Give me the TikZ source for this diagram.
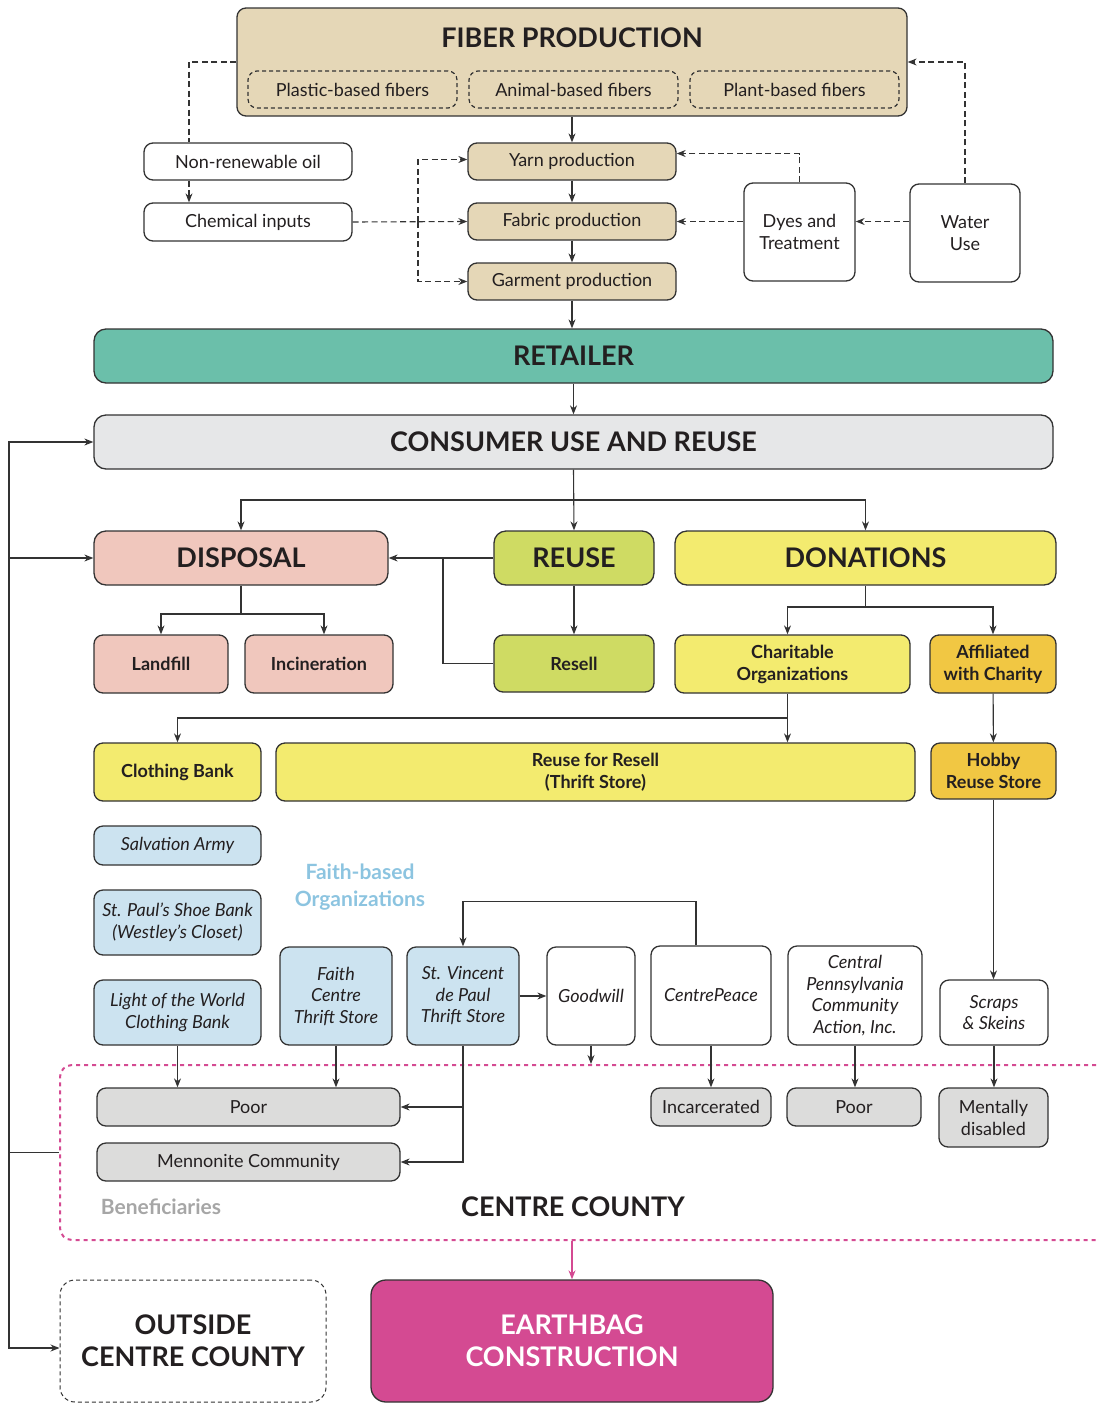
\documentclass[tikz,border=0pt]{standalone}
\usepackage{fontspec}
\setmainfont{Lato}
\usetikzlibrary{arrows.meta, positioning, calc}

\definecolor{tanc}{HTML}{E5D7B7}
\definecolor{tealc}{HTML}{6BBFAA}
\definecolor{greyc}{HTML}{E6E7E8}
\definecolor{pinkc}{HTML}{F0C7BD}
\definecolor{olivec}{HTML}{CFDB63}
\definecolor{yellowc}{HTML}{F3EB6F}
\definecolor{amberc}{HTML}{F1C743}
\definecolor{bluec}{HTML}{CCE3F0}
\definecolor{benefc}{HTML}{DCDCDB}
\definecolor{magentac}{HTML}{D44A92}
\definecolor{faithc}{HTML}{8CC4E0}
\definecolor{labelgrey}{HTML}{A6A6A6}
\definecolor{linec}{HTML}{333333}
\definecolor{txtc}{HTML}{231F20}

\begin{document}
\begin{tikzpicture}[
    x=1pt, y=-1pt,
    boxsize/.style 2 args={minimum width=#1pt, minimum height=#2pt},
    base/.style={draw=linec, line width=1.3pt, rounded corners=9pt, align=center, inner sep=0pt, text=txtc, font=\fontsize{18}{22}\selectfont},
    tanbox/.style={base, fill=tanc},
    plainbox/.style={base, fill=white},
    subbox/.style={base, line width=1.2pt, dash pattern=on 4pt off 3pt},
    headbox/.style={base, rounded corners=12pt, font=\fontsize{27}{32}\selectfont\bfseries},
    boldbox/.style={base, font=\fontsize{18}{22}\selectfont\bfseries},
    orgbox/.style={base, font=\fontsize{18}{21.5}\selectfont\itshape},
    benefbox/.style={base, fill=benefc},
    bigtext/.style={text=txtc, inner sep=0pt, align=center, font=\fontsize{27}{32}\selectfont\bfseries},
    county/.style={draw=magentac, line width=2pt, dash pattern=on 4pt off 4pt, rounded corners=12pt},
    link/.style={draw=linec, line width=1.1pt},
    arr/.style={link, -{Stealth[length=9pt, width=7pt]}},
    dline/.style={link, dash pattern=on 6pt off 3.5pt},
    darr/.style={arr, dash pattern=on 6pt off 3.5pt},
    pinkarr/.style={draw=magentac, line width=1.3pt, -{Stealth[length=9pt, width=7pt]}}
]
\useasboundingbox (0,0) rectangle (1098,1403);

% Fiber production
\node[tanbox, boxsize={670}{108}] (fiber) at (572,62) {};
\node[bigtext] (fibertitle) at (572,38) {FIBER PRODUCTION};
\node[subbox, boxsize={209}{37}] (plastic) at (352.5,89.5) {Plastic-based fibers};
\node[subbox, boxsize={209}{37}] (animal) at (573.5,89.5) {Animal-based fibers};
\node[subbox, boxsize={209}{37}] (plant) at (794.5,89.5) {Plant-based fibers};

% Production steps and inputs
\node[tanbox, boxsize={208}{37}] (yarn) at (572,161.5) {Yarn production};
\node[tanbox, boxsize={208}{37}] (fabric) at (572,221.5) {Fabric production};
\node[tanbox, boxsize={208}{37}] (garment) at (572,281.5) {Garment production};
\node[plainbox, boxsize={208}{37}] (oil) at (248,161.5) {Non-renewable oil};
\node[plainbox, boxsize={208}{38}] (chem) at (248,222) {Chemical inputs};
\node[plainbox, boxsize={111}{98}] (dyes) at (799.5,232) {Dyes and\\Treatment};
\node[plainbox, boxsize={110}{98}] (water) at (965,233) {Water\\Use};

% Retailer and consumer
\node[headbox, fill=tealc, boxsize={959}{54}] (retailer) at (573.5,356) {RETAILER};
\node[headbox, fill=greyc, boxsize={959}{54}] (consumer) at (573.5,442) {CONSUMER USE AND REUSE};

% End of use
\node[headbox, fill=pinkc, boxsize={294}{54}] (disposal) at (241,558) {DISPOSAL};
\node[headbox, fill=olivec, boxsize={160}{54}] (reuse) at (574,558) {REUSE};
\node[headbox, fill=yellowc, boxsize={381}{54}] (donations) at (865.5,558) {DONATIONS};

\node[boldbox, fill=pinkc, boxsize={134}{58}] (landfill) at (161,664) {Landfill};
\node[boldbox, fill=pinkc, boxsize={148}{58}] (incineration) at (319,664) {Incineration};
\node[boldbox, fill=olivec, boxsize={160}{57}] (resell) at (574,663.5) {Resell};
\node[boldbox, fill=yellowc, boxsize={235}{58}] (charitable) at (792.5,664) {Charitable\\Organizations};
\node[boldbox, fill=amberc, boxsize={126}{58}] (affiliated) at (993,664) {Affiliated\\with Charity};
\node[boldbox, fill=yellowc, boxsize={167}{58}] (clothing) at (177.5,772) {Clothing Bank};
\node[boldbox, fill=yellowc, boxsize={639}{58}] (thrift) at (595.5,772) {Reuse for Resell\\(Thrift Store)};
\node[boldbox, fill=amberc, boxsize={125}{56}] (hobby) at (993.5,771) {Hobby\\Reuse Store};

% Organizations
\node[orgbox, fill=bluec, boxsize={167}{39}] (salvation) at (177.5,845.5) {Salvation Army};
\node[orgbox, fill=bluec, boxsize={167}{65}] (stpaul) at (177.5,922.5) {St. Paul's Shoe Bank\\(Westley's Closet)};
\node[orgbox, fill=bluec, boxsize={167}{65}] (lightworld) at (177.5,1012.5) {Light of the World\\Clothing Bank};
\node[orgbox, fill=bluec, boxsize={112}{98}] (faithcentre) at (336,996) {Faith\\Centre\\Thrift Store};
\node[orgbox, fill=bluec, boxsize={112}{98}] (vincent) at (463,996) {St. Vincent\\de Paul\\Thrift Store};
\node[orgbox, fill=white, boxsize={88}{98}] (goodwill) at (591,996) {Goodwill};
\node[orgbox, fill=white, boxsize={120}{99}] (centrepeace) at (711,995.5) {CentrePeace};
\node[orgbox, fill=white, boxsize={134}{99}] (cpca) at (855,995.5) {Central\\Pennsylvania\\Community\\Action, Inc.};
\node[orgbox, fill=white, boxsize={108}{65}] (scraps) at (994,1012.5) {Scraps\\\& Skeins};
\node[font=\fontsize{21}{27}\selectfont\bfseries, text=faithc, align=center, inner sep=0pt] (faithlabel) at (360,887) {Faith-based\\Organizations};

% Centre County and beneficiaries
\node[county, boxsize={1080}{175}] (county) at (600,1152.5) {};
\node[benefbox, boxsize={303}{38}] (poor) at (248.5,1107) {Poor};
\node[benefbox, boxsize={303}{38}] (mennonite) at (248.5,1162) {Mennonite Community};
\node[benefbox, boxsize={120}{38}] (incarcerated) at (711,1107) {Incarcerated};
\node[benefbox, boxsize={134}{38}] (poortwo) at (854,1107) {Poor};
\node[benefbox, boxsize={109}{59}] (disabled) at (993.5,1117.5) {Mentally\\disabled};
\node[font=\fontsize{21}{25}\selectfont\bfseries, text=labelgrey, inner sep=0pt] (beneficiaries) at (161,1207) {Beneficiaries};
\node[bigtext] (countylabel) at (573,1207) {CENTRE COUNTY};

% Outside and earthbag
\node[headbox, line width=1pt, dash pattern=on 4pt off 3pt, rounded corners=15pt, boxsize={266}{122}] (outside) at (193,1341) {OUTSIDE\\CENTRE COUNTY};
\node[headbox, fill=magentac, text=white, rounded corners=15pt, boxsize={402}{122}] (earth) at (572,1341) {EARTHBAG\\CONSTRUCTION};

% Production chain
\draw[arr] (fiber.south) -- (yarn.north);
\draw[arr] (yarn) -- (fabric);
\draw[arr] (fabric) -- (garment);
\draw[arr] (garment.south) -- (garment.south |- retailer.north);
\draw[arr] (retailer) -- (consumer);

% Inputs (dashed)
\draw[dline] (fiber.west) -| ([xshift=-59pt]oil.north);
\draw[darr] ([xshift=-59pt]oil.south) -- ([xshift=-59pt]chem.north);
\draw[darr] (chem.east) -- (fabric.west);
\coordinate (chemsplit) at (418,222);
\draw[darr] (chemsplit) |- ([yshift=2pt]yarn.west);
\draw[darr] (chemsplit) |- (garment.west);
\draw[darr] (fabric.east -| dyes.west) -- (fabric.east);
\draw[darr] (dyes.north) |- ([yshift=8pt]yarn.east);
\draw[darr] (fabric.east -| water.west) -- (fabric.east -| dyes.east);
\draw[darr] (water.north) |- (fiber.east);

% Use and reuse
\coordinate (usesplit) at (573.5,500);
\draw[arr] (consumer.south) -- (reuse.north);
\draw[arr] (usesplit) -| (disposal.north);
\draw[arr] (usesplit) -| (donations.north);
\draw[arr] (reuse.west) -- (disposal.east);
\coordinate (resellturn) at (443,558);
\draw[link] (resell.west) -| (resellturn);
\draw[arr] (reuse) -- (resell);
\coordinate (dispsplit) at (241,614);
\draw[link] (disposal.south) -- (dispsplit);
\draw[arr] (dispsplit) -| (landfill.north);
\draw[arr] (dispsplit) -| ([xshift=5pt]incineration.north);
\coordinate (donsplit) at (865.5,607);
\draw[link] (donations.south) -- (donsplit);
\draw[arr] (donsplit) -| ([xshift=-5pt]charitable.north);
\draw[arr] (donsplit) -| (affiliated.north);
\draw[arr] ([xshift=-5pt]charitable.south) -- ([xshift=-5pt]charitable.south |- thrift.north);
\coordinate (charsplit) at (787.5,718);
\draw[arr] (charsplit) -| (clothing.north);
\draw[arr] (affiliated) -- (hobby);
\draw[arr] (hobby.south) -- (hobby.south |- scraps.north);

% Organizations to beneficiaries
\draw[arr] ([xshift=-15pt]centrepeace.north) -- ++(0,-44) -| (vincent.north);
\draw[arr] (vincent.east) -- (goodwill.west);
\draw[arr] (goodwill.south) -- (goodwill.south |- county.north);
\draw[arr] (lightworld.south) -- (lightworld.south |- poor.north);
\draw[arr] (faithcentre.south) -- (faithcentre.south |- poor.north);
\draw[arr] (vincent.south) |- (mennonite.east);
\draw[arr] (vincent.south |- poor.east) -- (poor.east);
\draw[arr] (centrepeace) -- (incarcerated);
\draw[arr] (cpca.south) -- (cpca.south |- poortwo.north);
\draw[arr] (scraps.south) -- (scraps.south |- disabled.north);

% Loop back from the county
\draw[link] (county.west) -- ++(-50,0) coordinate (loop);
\draw[arr] (loop) |- (consumer.west);
\draw[arr] (loop) |- (disposal.west);
\draw[arr] (loop) |- ([yshift=-7pt]outside.west);
\draw[pinkarr] (earth.north |- county.south) -- (earth.north);

\end{tikzpicture}
\end{document}
